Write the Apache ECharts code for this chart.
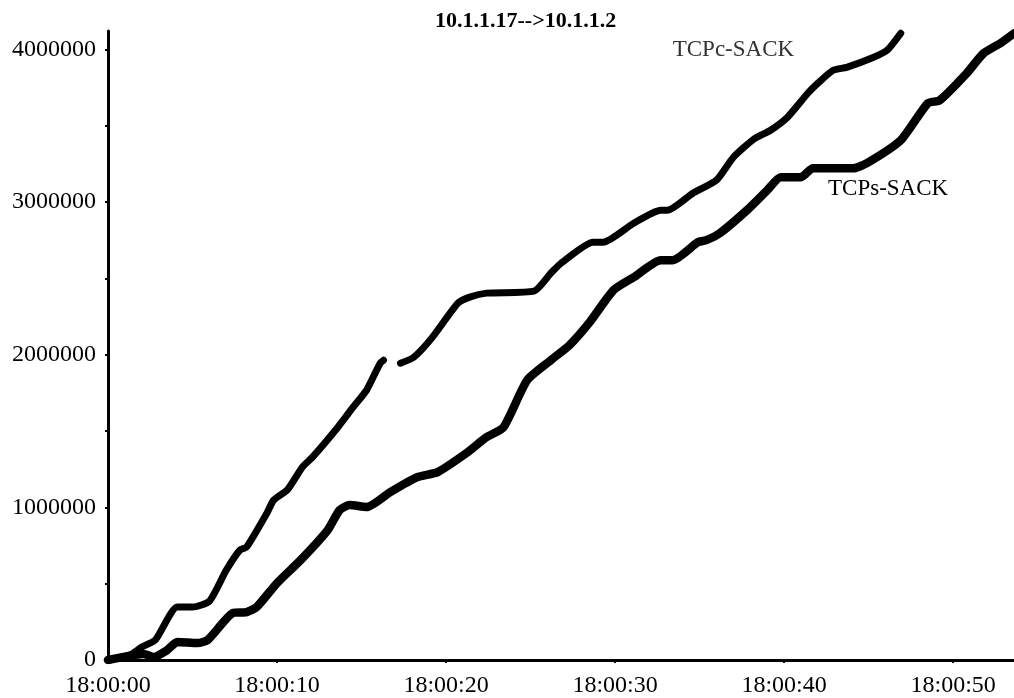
<!DOCTYPE html>
<html>
<head>
<meta charset="utf-8">
<script src="https://cdn.jsdelivr.net/npm/echarts@6/dist/echarts.min.js"></script>
<style>
  html, body { margin: 0; padding: 0; background: #fff; }
  #chart { width: 1014px; height: 698px; }
</style>
</head>
<body>
<div id="chart"></div>
<script>
// seconds after 18:00:00 and bytes
var tcpcTime = [0, 1.3, 2.0, 2.8, 4.1, 5.0, 6.0, 7.0, 7.8, 8.2, 9.4, 9.8, 10.6, 11.5, 12.1, 13.6, 14.5, 15.3, 16.1, 16.3, 16.8,
    17.3, 18.1, 19.2, 20.7, 21.4, 22.4, 25.2, 26.2, 26.8, 28.7, 29.3, 31.1, 32.7, 33.1, 34.6, 36.0, 37.0, 38.2, 39.2,
    40.2, 41.4, 42.0, 42.9, 43.7, 45.3, 46.1, 46.9];
var tcpcBytes = [0, 33000, 85000, 131000, 347000, 347000, 386000, 589000, 720000, 740000, 962000, 1047000, 1113000,
    1264000, 1329000, 1525000, 1656000, 1768000, 1944000, 1964000, null,
    1944000, 1984000, 2115000, 2337000, 2377000, 2403000, 2416000, 2534000, 2599000, 2737000, 2737000, 2861000,
    2946000, 2946000, 3057000, 3143000, 3293000, 3411000, 3470000, 3555000, 3712000, 3778000, 3863000, 3882000,
    3948000, 3994000, 4105000];

var tcpsTime = [0, 2.1, 2.7, 3.5, 4.1, 5.3, 5.9, 7.4, 8.2, 8.8, 10.0, 11.4, 13.0, 13.7, 14.3, 15.3, 16.7, 18.3, 19.5,
    21.2, 22.4, 23.4, 24.8, 26.2, 27.3, 28.5, 29.9, 31.1, 32.7, 33.4, 34.9, 35.4, 36.2, 37.8, 39.0, 39.8, 41.0, 41.7,
    44.1, 44.9, 46.9, 48.5, 49.2, 50.8, 51.8, 52.8, 53.6];
var tcpsBytes = [0, 40000, 20000, 65000, 118000, 111000, 131000, 308000, 314000, 347000, 504000, 655000, 851000,
    982000, 1015000, 1002000, 1100000, 1198000, 1231000, 1355000, 1460000, 1525000, 1833000, 1964000, 2062000,
    2213000, 2422000, 2507000, 2619000, 2619000, 2737000, 2750000, 2796000, 2946000, 3077000, 3162000, 3162000,
    3221000, 3221000, 3254000, 3404000, 3647000, 3666000, 3843000, 3974000, 4040000, 4105000];

var seriesNames = ['TCPc-SACK', 'TCPs-SACK'];
var labelAt = [[37.0, 3994000], [46.15, 3084000]];

function pairs(xs, ys) {
    return xs.map(function (x, i) { return [x, ys[i]]; });
}

var serif = 'Liberation Serif';

var chart = echarts.init(document.getElementById('chart'));

function lineSeries(name, data, width, pos, color) {
    return {
        name: name,
        type: 'line',
        data: data,
        showSymbol: false,
        smooth: 0.2,
        connectNulls: false,
        lineStyle: { color: '#000', width: width, cap: 'round', join: 'round' },
        markPoint: {
            symbol: 'circle',
            symbolSize: 0,
            label: {
                show: true,
                position: 'inside',
                formatter: name,
                color: color,
                fontFamily: serif,
                fontSize: 23
            },
            data: [{ coord: pos }]
        },
        animation: false
    };
}

var option = {
    backgroundColor: '#fff',
    title: {
        text: '10.1.1.17-->10.1.1.2',
        left: 430,
        top: 5,
        textStyle: { fontFamily: serif, fontWeight: 'bold', fontSize: 22, color: '#000' }
    },
    grid: { left: 108, right: 0, top: 31, bottom: 38 },
    xAxis: {
        type: 'value',
        min: 0,
        max: 53.6,
        interval: 10,
        axisLine: { lineStyle: { color: '#000', width: 3 } },
        axisTick: { length: 3, lineStyle: { color: '#000', width: 2 } },
        splitLine: { show: false },
        axisLabel: {
            showMaxLabel: false,
            margin: 14,
            color: '#000',
            fontFamily: serif,
            fontSize: 24,
            formatter: function (v) {
                var s = Math.round(v);
                return '18:00:' + (s < 10 ? '0' + s : s);
            }
        }
    },
    yAxis: {
        type: 'value',
        min: 0,
        max: 4120000,
        interval: 500000,
        axisLine: { show: true, lineStyle: { color: '#000', width: 3 } },
        axisTick: { show: true, length: 3, lineStyle: { color: '#000', width: 2 } },
        splitLine: { show: false },
        axisLabel: {
            showMaxLabel: false,
            margin: 12,
            color: '#000',
            fontFamily: serif,
            fontSize: 24,
            formatter: function (v) {
                return v % 1000000 === 0 ? String(v) : '';
            }
        }
    },
    series: [
        lineSeries(seriesNames[0], pairs(tcpcTime, tcpcBytes), 7, labelAt[0], '#333'),
        lineSeries(seriesNames[1], pairs(tcpsTime, tcpsBytes), 8.5, labelAt[1], '#000')
    ]
};

chart.setOption(option);
</script>
</body>
</html>
